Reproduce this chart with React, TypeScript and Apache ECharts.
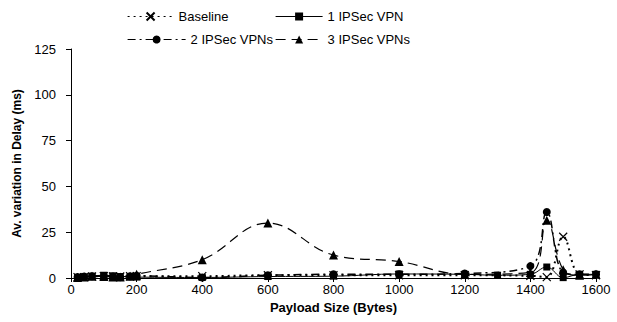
import React, { useEffect, useRef } from "react";
import * as echarts from "echarts";

const payloads = [20, 40, 64, 100, 128, 150, 180, 200, 400, 600, 800, 1000, 1200, 1300, 1400, 1450, 1500, 1550, 1600];
const baseline = [0.5, 0.5, 0.8, 1, 0.8, 0.8, 1, 1, 1, 1.5, 1.5, 1.5, 1.5, null, 1.2, 0.5, 22.5, 2, 1.5];
const vpn1 = [0.3, 0.5, 1, 1.5, 1.2, 0.8, 0.8, 0.5, 0.3, 0.8, 1, 2.2, 2, 1.5, 2, 6, 0.2, 2, 2];
const vpn2 = [0.5, 0.8, 1, 1, 0.8, 0.5, 1, 1.2, 0.3, 1.5, 2, 2, 2.5, null, 6.5, 36, 3, 2, 2];
const vpn3 = [0.3, 0.5, 1, 0.8, 0.5, 0.5, 1, 2, 10, 30, 12.5, 9, 2, null, 3, 31.5, 4.5, 1.5, 2];
const seriesNames = ["Baseline", "1 IPSec VPN", "2 IPSec VPNs", "3 IPSec VPNs"];
const xTicks = { min: 0, max: 1600, interval: 200 };
const yTicks = { min: 0, max: 125, interval: 25 };

const FONT = "'Liberation Sans', Arial, sans-serif";

function pairs(vals: (number | null)[]) {
  return payloads.map((x, i) => [x, vals[i]]);
}

export default function App() {
  const ref = useRef<HTMLDivElement>(null);
  useEffect(() => {
    if (!ref.current) return;
    const chart = echarts.init(ref.current, undefined, { renderer: "svg" });
    const legendBase = {
      orient: "horizontal",
      itemHeight: 10,
      textStyle: { fontFamily: FONT, fontSize: 13, color: "#000" },
      lineStyle: { width: 1.2 },
      itemGap: 0,
      padding: 0,
    };
    chart.setOption({
      animation: false,
      backgroundColor: "#fff",
      textStyle: { fontFamily: FONT },
      legend: [
        { ...legendBase, data: [seriesNames[0]], left: 127, top: 10, itemWidth: 46 },
        { ...legendBase, data: [seriesNames[1]], left: 275, top: 10, itemWidth: 47 },
        { ...legendBase, data: [seriesNames[2]], left: 127, top: 33, itemWidth: 58 },
        { ...legendBase, data: [seriesNames[3]], left: 275, top: 33, itemWidth: 47 },
      ],
      grid: { left: 71, right: 21, top: 49, bottom: 44 },
      xAxis: {
        type: "value",
        ...xTicks,
        name: "Payload Size (Bytes)",
        nameLocation: "middle",
        nameGap: 17,
        nameTextStyle: { fontFamily: FONT, fontSize: 13, fontWeight: "bold", color: "#000" },
        axisLine: { show: true, lineStyle: { color: "#000", width: 1 } },
        axisTick: { show: true, length: 4, lineStyle: { color: "#000" } },
        axisLabel: {
          fontFamily: FONT,
          fontSize: 13,
          color: "#000",
          margin: 5,
          formatter: (v: number) => String(v),
        },
        splitLine: { show: false },
      },
      yAxis: {
        type: "value",
        ...yTicks,
        name: "Av. variation in Delay (ms)",
        nameLocation: "middle",
        nameGap: 46,
        nameTextStyle: { fontFamily: FONT, fontSize: 12, fontWeight: "bold", color: "#000" },
        axisLine: { show: true, lineStyle: { color: "#000", width: 1 } },
        axisTick: { show: true, length: 5, lineStyle: { color: "#000" } },
        axisLabel: {
          fontFamily: FONT,
          fontSize: 13,
          color: "#000",
          margin: 15,
          formatter: (v: number) => String(v),
        },
        splitLine: { show: false },
      },
      series: [
        {
          name: seriesNames[0],
          type: "line",
          smooth: 0.4,
          connectNulls: true,
          data: pairs(baseline),
          symbol: "path://M0,0L10,10M10,0L0,10",
          symbolSize: 8,
          itemStyle: { color: "transparent", borderColor: "#000", borderWidth: 1.2 },
          lineStyle: { color: "#000", width: 2, type: [2, 4] },
          z: 4,
        },
        {
          name: seriesNames[1],
          type: "line",
          smooth: 0.4,
          connectNulls: true,
          data: pairs(vpn1),
          symbol: "rect",
          symbolSize: 7,
          itemStyle: { color: "#000" },
          lineStyle: { color: "#000", width: 1 },
          z: 3,
        },
        {
          name: seriesNames[2],
          type: "line",
          smooth: 0.4,
          connectNulls: true,
          data: pairs(vpn2),
          symbol: "circle",
          symbolSize: 8,
          itemStyle: { color: "#000" },
          lineStyle: { color: "#000", width: 1.5, type: [8, 4, 2, 4] },
          z: 2,
        },
        {
          name: seriesNames[3],
          type: "line",
          smooth: 0.4,
          connectNulls: true,
          data: pairs(vpn3),
          symbol: "triangle",
          symbolSize: 9,
          itemStyle: { color: "#000" },
          lineStyle: { color: "#000", width: 1.2, type: [10, 6] },
          z: 1,
        },
      ],
    });
    return () => chart.dispose();
  }, []);
  return <div ref={ref} style={{ width: 617, height: 322, position: "absolute", left: 0, top: 0 }} />;
}
